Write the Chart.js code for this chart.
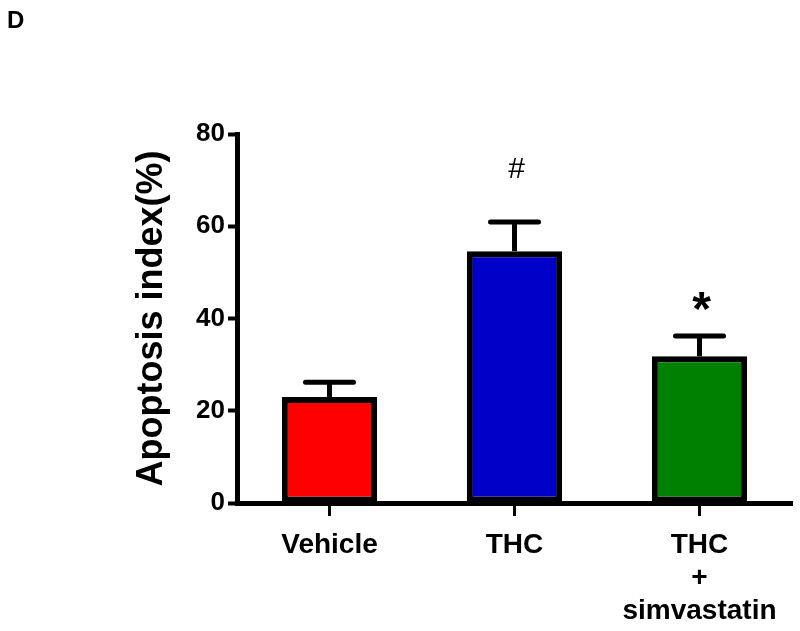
<!DOCTYPE html>
<html>
<head>
<meta charset="utf-8">
<script src="https://cdn.jsdelivr.net/npm/chart.js@4"></script>
<style>
  html, body { margin: 0; padding: 0; background: #fff; }
  #wrap { position: relative; width: 800px; height: 631px; }
  #panel { position: absolute; left: 7px; top: 6px; font: bold 24px "Liberation Sans", Arial, sans-serif; color: #000; }
</style>
</head>
<body>
<div id="wrap">
  <canvas id="chart" width="800" height="631"></canvas>
  <div id="panel">D</div>
</div>
<script>
// ---- data ------------------------------------------------------------------
var groups = ['Vehicle', 'THC', ['THC', '+', 'simvastatin']];
var means = [23.0, 54.6, 31.8];
var errors = [3.2, 6.3, 4.4];
var marks = ['', '#', '*'];
var colors = ['#ff0000', '#0000c8', '#008000'];
var yTicks = [0, 20, 40, 60, 80];

var FONT = '"Liberation Sans", Arial, sans-serif';

// error bars (mean + SEM, upper side only) and significance marks
var errorBars = {
  id: 'errorBars',
  afterDatasetsDraw: function (chart) {
    var ctx = chart.ctx;
    var y = chart.scales.y;
    var meta = chart.getDatasetMeta(0);
    ctx.save();
    ctx.strokeStyle = '#000';
    ctx.lineWidth = 5;
    meta.data.forEach(function (bar, i) {
      var top = y.getPixelForValue(means[i] + errors[i]);
      ctx.lineCap = 'butt';
      ctx.beginPath();
      ctx.moveTo(bar.x, bar.y);
      ctx.lineTo(bar.x, top);
      ctx.stroke();
      ctx.lineCap = 'round';
      ctx.beginPath();
      ctx.moveTo(bar.x - 24, top);
      ctx.lineTo(bar.x + 24, top);
      ctx.stroke();
      if (marks[i]) {
        ctx.fillStyle = '#000';
        ctx.textAlign = 'center';
        ctx.textBaseline = 'middle';
        if (marks[i] === '*') {
          ctx.font = 'bold 48px ' + FONT;
          ctx.fillText(marks[i], bar.x + 2, top - 24);
        } else {
          ctx.font = '30px ' + FONT;
          ctx.fillText(marks[i], bar.x + 2, top - 52);
        }
      }
    });
    ctx.restore();
  }
};

new Chart(document.getElementById('chart'), {
  type: 'bar',
  data: {
    labels: groups,
    datasets: [{
      data: means,
      backgroundColor: colors,
      borderColor: '#000',
      borderWidth: 6,
      borderSkipped: false,
      categoryPercentage: 1,
      barPercentage: 0.515
    }]
  },
  options: {
    responsive: false,
    animation: false,
    events: [],
    layout: { padding: { left: 130, top: 134, right: 8, bottom: 0 } },
    plugins: { legend: { display: false }, tooltip: { enabled: false } },
    scales: {
      x: {
        offset: true,
        grid: {
          offset: false,
          drawOnChartArea: false,
          tickLength: 13,
          tickWidth: 3,
          tickColor: '#000'
        },
        border: { color: '#000', width: 5 },
        ticks: {
          color: '#000',
          padding: 13,
          maxRotation: 0,
          font: { family: FONT, size: 28, weight: 'bold', lineHeight: 1.18 }
        },
        afterFit: function (s) { s.height = 128; }
      },
      y: {
        min: 0,
        max: 80,
        afterBuildTicks: function (s) {
          s.ticks = yTicks.map(function (v) { return { value: v }; });
        },
        grid: {
          drawOnChartArea: false,
          tickLength: 9,
          tickWidth: 4,
          tickColor: '#000'
        },
        border: { color: '#000', width: 5 },
        ticks: {
          color: '#000',
          padding: 3,
          font: { family: FONT, size: 26, weight: 'bold' }
        },
        title: {
          display: true,
          text: 'Apoptosis index(%)',
          color: '#000',
          padding: { top: 0, bottom: 0 },
          font: { family: FONT, size: 36, weight: 'bold' }
        },
        afterFit: function (s) { s.width = 107; }
      }
    }
  },
  plugins: [errorBars]
});
</script>
</body>
</html>
